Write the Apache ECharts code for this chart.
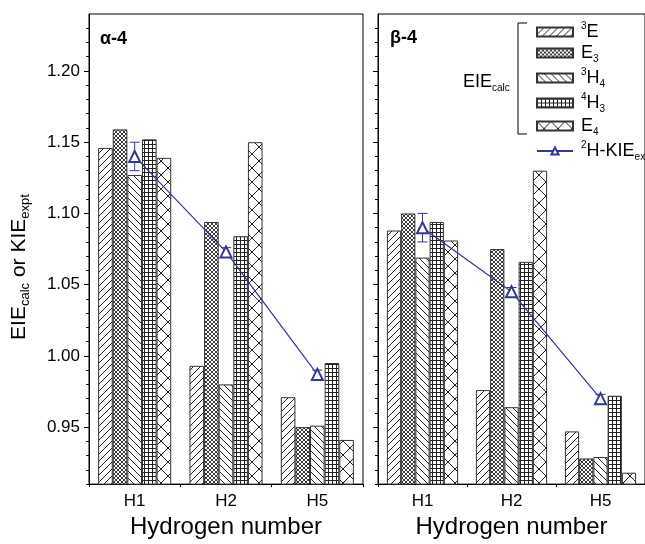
<!DOCTYPE html>
<html><head><meta charset="utf-8">
<script src="https://cdn.jsdelivr.net/npm/echarts@6/dist/echarts.min.js"></script>
<style>html,body{margin:0;padding:0;background:#fff}#c{width:645px;height:544px}</style>
</head><body><div id="c"></div>
<script>
// ---- data ----
const categories = ['H1', 'H2', 'H5'];
const seriesNames = ['3E', 'E3', '3H4', '4H3', 'E4'];
// alpha-4 panel
const alpha_3E  = [1.146, 0.993, 0.971];
const alpha_E3  = [1.159, 1.094, 0.950];
const alpha_3H4 = [1.127, 0.980, 0.951];
const alpha_4H3 = [1.152, 1.084, 0.995];
const alpha_E4  = [1.139, 1.150, 0.941];
const alpha_KIE = [1.140, 1.073, 0.987];
const alpha_KIE_err = [0.010, 0.003, 0.003];
// beta-4 panel
const beta_3E  = [1.088, 0.976, 0.947];
const beta_E3  = [1.100, 1.075, 0.928];
const beta_3H4 = [1.069, 0.964, 0.929];
const beta_4H3 = [1.094, 1.066, 0.972];
const beta_E4  = [1.081, 1.130, 0.918];
const beta_KIE = [1.090, 1.045, 0.970];
const beta_KIE_err = [0.010, 0.003, 0.003];
// axis ticks
const yMajorTicks = [0.95, 1.00, 1.05, 1.10, 1.15, 1.20];
const yMinorTicks = [0.91, 0.92, 0.93, 0.94, 0.96, 0.97, 0.98, 0.99, 1.01, 1.02, 1.03, 1.04,
                     1.06, 1.07, 1.08, 1.09, 1.11, 1.12, 1.13, 1.14, 1.16, 1.17, 1.18, 1.19,
                     1.21, 1.22, 1.23];
const yMin = 0.91, yMax = 1.24;

// ---- styles ----
const FONT = "'Liberation Sans', Arial, Helvetica, sans-serif";
const KIE_COLOR = '#34349a';
const BAR_BORDER = '#333';

function makePattern(size, draw) {
  const cv = document.createElement('canvas');
  cv.width = size; cv.height = size;
  const ctx = cv.getContext('2d');
  ctx.fillStyle = '#fff';
  ctx.fillRect(0, 0, size, size);
  ctx.strokeStyle = '#222';
  ctx.lineWidth = 1;
  draw(ctx, size);
  return { image: cv, repeat: 'repeat' };
}
function seg(ctx, x1, y1, x2, y2) { ctx.beginPath(); ctx.moveTo(x1, y1); ctx.lineTo(x2, y2); ctx.stroke(); }
const patterns = {
  '3E': makePattern(7, (c, s) => { seg(c, -1, s + 1, s + 1, -1); seg(c, -1, 1, 1, -1); seg(c, s - 1, s + 1, s + 1, s - 1); }),
  'E3': makePattern(4, (c, s) => { c.lineWidth = 0.9; seg(c, -1, -1, s + 1, s + 1); seg(c, -1, s + 1, s + 1, -1); }),
  '3H4': makePattern(7, (c, s) => { seg(c, -1, -1, s + 1, s + 1); seg(c, s - 1, -1, s + 1, 1); seg(c, -1, s - 1, 1, s + 1); }),
  '4H3': makePattern(4, (c, s) => { seg(c, 0, 0.5, s, 0.5); seg(c, 0.5, 0, 0.5, s); }),
  'E4': makePattern(14, (c, s) => { seg(c, -1, -1, s + 1, s + 1); seg(c, -1, s + 1, s + 1, -1); })
};

const legendLabels = {
  '3E': '{sup|3}{m|E}',
  'E3': '{m|E}{sub|3}',
  '3H4': '{sup|3}{m|H}{sub|4}',
  '4H3': '{sup|4}{m|H}{sub|3}',
  'E4': '{m|E}{sub|4}',
  'KIE': '{sup|2}{m|H-KIE}{sub|expt}'
};

const panels = [
  { values: [alpha_3E, alpha_E3, alpha_3H4, alpha_4H3, alpha_E4], kie: alpha_KIE, err: alpha_KIE_err },
  { values: [beta_3E, beta_E3, beta_3H4, beta_4H3, beta_E4], kie: beta_KIE, err: beta_KIE_err }
];

const grids = [
  { left: 89, top: 14, width: 274, height: 476 },
  { left: 378, top: 14, width: 273, height: 476 }
].map(g => Object.assign(g, { show: true, borderColor: '#000', borderWidth: 1, backgroundColor: 'transparent', containLabel: false }));

const xAxes = [], yAxes = [], series = [];
panels.forEach((p, gi) => {
  xAxes.push({
    type: 'category', gridIndex: gi, data: categories, position: 'bottom',
    axisLine: { lineStyle: { color: '#000', width: 1 } },
    axisTick: { alignWithLabel: true, length: 5, lineStyle: { color: '#000' } },
    axisLabel: { color: '#000', fontSize: 17, fontFamily: FONT, margin: 9 },
    name: 'Hydrogen number', nameLocation: 'middle', nameGap: 30,
    nameTextStyle: { color: '#000', fontSize: 24, fontFamily: FONT }
  });
  xAxes.push({
    type: 'category', gridIndex: gi, data: categories, position: 'bottom',
    axisLine: { show: false },
    axisTick: { show: true, length: 3, lineStyle: { color: '#000' } },
    axisLabel: { show: false }
  });
  yAxes.push({
    type: 'value', gridIndex: gi, min: yMin, max: yMax, position: 'left',
    splitLine: { show: false },
    axisLine: { show: true, lineStyle: { color: '#000', width: 1 } },
    axisTick: { show: true, length: 5, customValues: yMajorTicks, lineStyle: { color: '#000' } },
    axisLabel: {
      show: gi === 0, customValues: yMajorTicks, color: '#000', fontSize: 17, fontFamily: FONT, margin: 9,
      formatter: v => v.toFixed(2)
    },
    name: gi === 0 ? '{m|EIE}{s|calc}{m| or KIE}{s|expt}' : '',
    nameLocation: 'middle', nameGap: 57,
    nameTextStyle: {
      color: '#000', fontFamily: FONT, padding: [0, 36, 0, 0],
      rich: {
        m: { fontSize: 21, lineHeight: 26, fontFamily: FONT, color: '#000' },
        s: { fontSize: 13, lineHeight: 13, verticalAlign: 'bottom', fontFamily: FONT, color: '#000' }
      }
    }
  });
  yAxes.push({
    type: 'value', gridIndex: gi, min: yMin, max: yMax, position: 'left',
    splitLine: { show: false },
    axisLine: { show: false },
    axisTick: { show: true, length: 3, customValues: yMinorTicks, lineStyle: { color: '#000' } },
    axisLabel: { show: false }
  });
  const xi = gi * 2, yi = gi * 2;
  seriesNames.forEach((nm, si) => {
    series.push({
      type: 'bar', name: nm, xAxisIndex: xi, yAxisIndex: yi, data: p.values[si],
      barGap: '0%', barCategoryGap: '20%', z: 2,
      itemStyle: { color: patterns[nm], borderColor: BAR_BORDER, borderWidth: 1 },
      emphasis: { disabled: true }, animation: false
    });
  });
  series.push({
    type: 'custom', name: 'KIE_err', xAxisIndex: xi, yAxisIndex: yi, z: 3,
    data: categories.map((c, i) => [i, p.kie[i], p.err[i]]),
    renderItem: (params, api) => {
      const x = api.value(0), v = api.value(1), e = api.value(2);
      const t = api.coord([x, v + e]), b = api.coord([x, v - e]);
      const w = 5, st = { stroke: KIE_COLOR, lineWidth: 1 };
      return { type: 'group', children: [
        { type: 'line', shape: { x1: t[0], y1: t[1], x2: b[0], y2: b[1] }, style: st },
        { type: 'line', shape: { x1: t[0] - w, y1: t[1], x2: t[0] + w, y2: t[1] }, style: st },
        { type: 'line', shape: { x1: b[0] - w, y1: b[1], x2: b[0] + w, y2: b[1] }, style: st }
      ] };
    },
    animation: false
  });
  series.push({
    type: 'line', name: 'KIE', xAxisIndex: xi, yAxisIndex: yi, data: p.kie, z: 4,
    symbol: 'emptyTriangle', symbolSize: 11,
    lineStyle: { color: KIE_COLOR, width: 1.2 },
    itemStyle: { color: KIE_COLOR, borderColor: KIE_COLOR, borderWidth: 1.6 },
    emphasis: { disabled: true }, animation: false
  });
});

const chart = echarts.init(document.getElementById('c'), null, { renderer: 'canvas' });
chart.setOption({
  animation: false,
  backgroundColor: '#fff',
  title: [
    { text: 'α-4', left: 95, top: 25, textStyle: { fontSize: 18, fontWeight: 'bold', color: '#000', fontFamily: FONT } },
    { text: 'β-4', left: 385, top: 24, textStyle: { fontSize: 18, fontWeight: 'bold', color: '#000', fontFamily: FONT } }
  ],
  grid: grids,
  xAxis: xAxes,
  yAxis: yAxes,
  legend: {
    orient: 'vertical', left: 531, top: 16, itemWidth: 36, itemHeight: 9, itemGap: 3,
    selectedMode: false,
    data: seriesNames.map(n => ({ name: n, icon: 'rect' })).concat([{ name: 'KIE' }]),
    formatter: n => legendLabels[n],
    textStyle: {
      padding: [0, 0, 0, 3],
      rich: {
        m: { fontSize: 18, lineHeight: 22, fontFamily: FONT, color: '#000' },
        sup: { fontSize: 10, lineHeight: 12, verticalAlign: 'top', fontFamily: FONT, color: '#000' },
        sub: { fontSize: 10, lineHeight: 11, verticalAlign: 'bottom', fontFamily: FONT, color: '#000' }
      }
    }
  },
  graphic: [
    { type: 'polyline', shape: { points: [[527, 23], [518, 23], [518, 134], [527, 134]] },
      style: { stroke: '#000', lineWidth: 1, fill: null }, silent: true },
    { type: 'text', x: 463, y: 82,
      style: { text: '{m|EIE}{s|calc}', verticalAlign: 'middle', align: 'left',
        rich: {
          m: { fontSize: 18, lineHeight: 22, fontFamily: FONT, fill: '#000', color: '#000' },
          s: { fontSize: 10, lineHeight: 11, verticalAlign: 'bottom', fontFamily: FONT, fill: '#000', color: '#000' }
        } }, silent: true }
  ],
  series: series
});
</script></body></html>
